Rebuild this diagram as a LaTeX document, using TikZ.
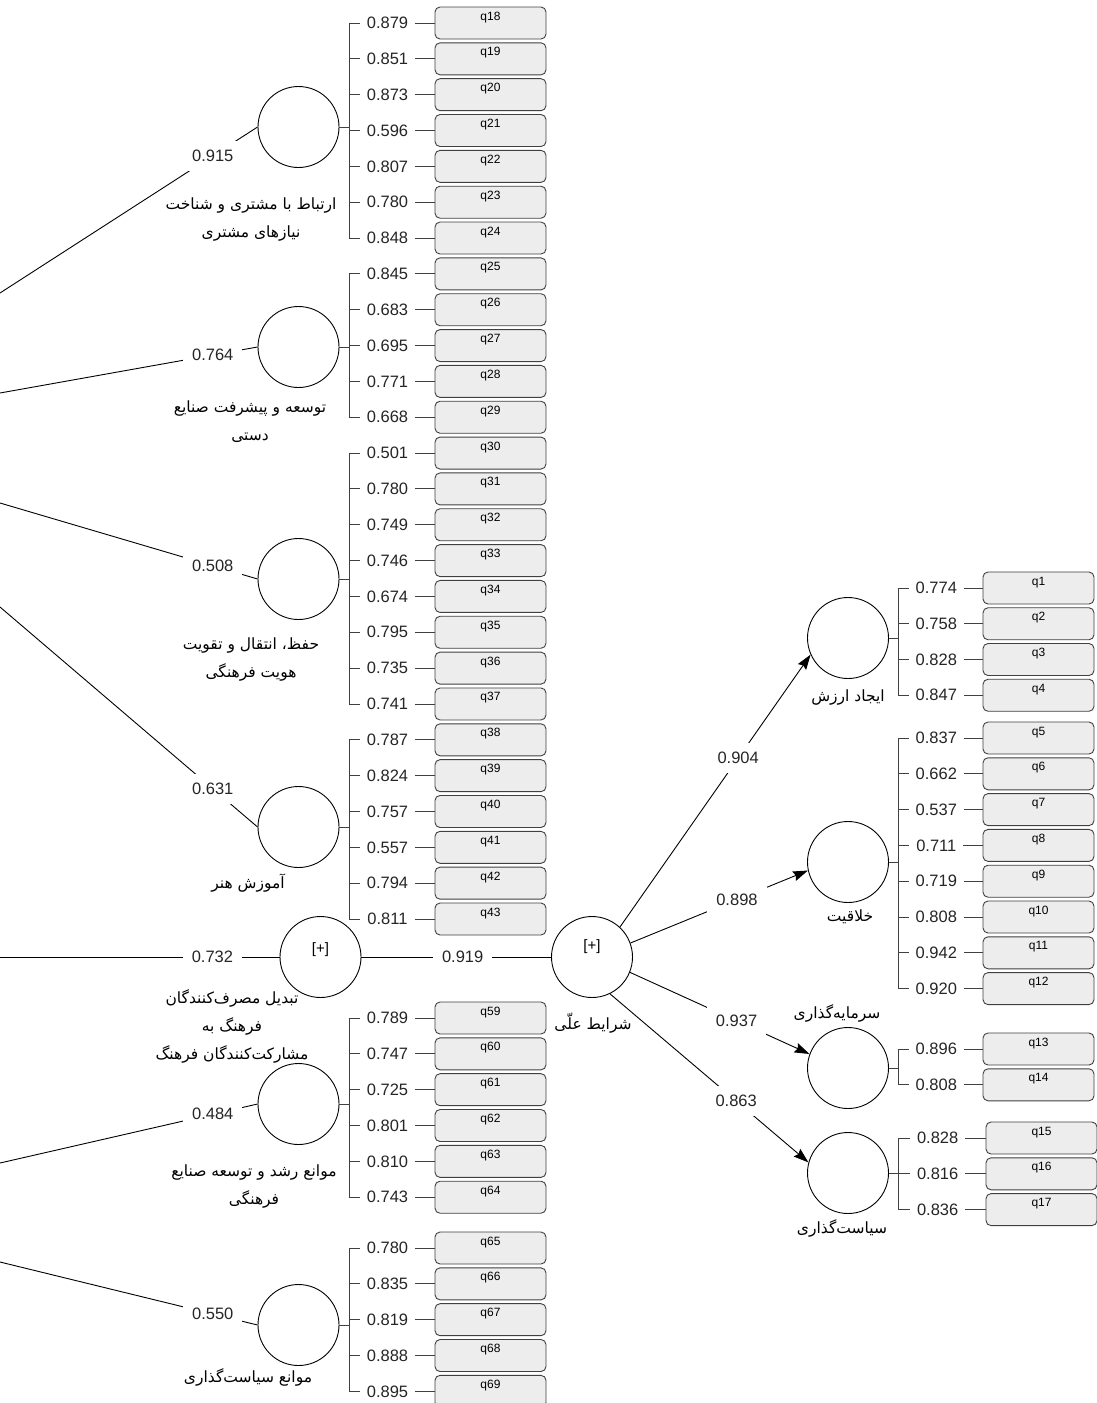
\documentclass[tikz,border=0pt]{standalone}
\usepackage{fontspec}
\setmainfont{Liberation Sans}
\newfontfamily\farsi[Script=Arabic]{DejaVu Sans}
\TeXXeTstate=1
\usetikzlibrary{shapes.geometric,arrows.meta,positioning,calc}

\tikzset{
  latent/.style={circle, draw, minimum size=81pt, inner sep=0pt},
  ind/.style={draw=black!75, fill=black!7, rounded corners=5pt, minimum width=111pt,
    minimum height=32pt, inner ysep=5pt, text height=8pt, text depth=14pt,
    font=\fontsize{12}{12}\selectfont},
  brk/.style={draw=black!75},
  load/.style={fill=white, pos=0.45, inner xsep=7pt, inner ysep=1pt, text=black!85,
    font=\fontsize{16.5}{18}\selectfont},
  coef/.style={fill=white, inner sep=9pt, text=black!85, font=\fontsize{16.5}{18}\selectfont},
  fa/.style={font=\farsi\fontsize{15.5}{28}\selectfont, align=center},
  arr/.style={-{Stealth[length=15pt, width=10pt, inset=2pt]}},
}

\begin{document}
\begin{tikzpicture}[x=1pt, y=-1pt, line width=0.9pt]
  \clip (0,0) rectangle (1097,1403);

  % left column: first order constructs
  \node[latent] (c1) at (298.5,127) {};
  \coordinate[right=9.5pt of c1.east] (b1);
  \foreach \q/\v in {18/0.879,19/0.851,20/0.873,21/0.596,22/0.807,23/0.780,24/0.848}{
    \node[ind] (q\q) at (490.5,{23+35.84*(\q-18)}) {q\q};
    \draw[brk] (b1 |- q\q) -- node[load] (v\q) {\v} (q\q.west);
  }
  \draw[brk] (c1.east) -- (b1) (b1 |- q18) -- (b1 |- q24);
  \node[fa] (t1) at (251,219) {\beginR ارتباط با مشتری و شناخت\endR\\\beginR نیازهای مشتری\endR};

  \node[latent] (c2) at (298.5,347) {};
  \coordinate[right=9.5pt of c2.east] (b2);
  \foreach \q/\v in {25/0.845,26/0.683,27/0.695,28/0.771,29/0.668}{
    \node[ind] (q\q) at (490.5,{23+35.84*(\q-18)}) {q\q};
    \draw[brk] (b2 |- q\q) -- node[load] (v\q) {\v} (q\q.west);
  }
  \draw[brk] (c2.east) -- (b2) (b2 |- q25) -- (b2 |- q29);
  \node[fa] (t2) at (250,422) {\beginR توسعه و پیشرفت صنایع\endR\\\beginR دستی\endR};

  \node[latent] (c3) at (298.5,579) {};
  \coordinate[right=9.5pt of c3.east] (b3);
  \foreach \q/\v in {30/0.501,31/0.780,32/0.749,33/0.746,34/0.674,35/0.795,36/0.735,37/0.741}{
    \node[ind] (q\q) at (490.5,{23+35.84*(\q-18)}) {q\q};
    \draw[brk] (b3 |- q\q) -- node[load] (v\q) {\v} (q\q.west);
  }
  \draw[brk] (c3.east) -- (b3) (b3 |- q30) -- (b3 |- q37);
  \node[fa] (t3) at (251,659) {\beginR حفظ، انتقال و تقویت\endR\\\beginR هویت فرهنگی\endR};

  \node[latent] (c4) at (298.5,827) {};
  \coordinate[right=9.5pt of c4.east] (b4);
  \foreach \q/\v in {38/0.787,39/0.824,40/0.757,41/0.557,42/0.794,43/0.811}{
    \node[ind] (q\q) at (490.5,{23+35.84*(\q-18)}) {q\q};
    \draw[brk] (b4 |- q\q) -- node[load] (v\q) {\v} (q\q.west);
  }
  \draw[brk] (c4.east) -- (b4) (b4 |- q38) -- (b4 |- q43);
  \node[fa] (t4) at (248,883) {\beginR آموزش هنر\endR};

  % second order construct
  \node[latent] (c5) at (320.5,957) {};
  \node[font=\fontsize{15}{16}\selectfont] (plus5) at (320.5,950) {[+]};
  \node[fa] (t5) at (232,1026) {\beginR تبدیل مصرف^^^^200cکنندگان\endR\\\beginR فرهنگ به\endR\\\beginR مشارکت^^^^200cکنندگان فرهنگ\endR};

  \node[latent] (c6) at (298.5,1104) {};
  \coordinate[right=9.5pt of c6.east] (b6);
  \foreach \q/\v in {59/0.789,60/0.747,61/0.725,62/0.801,63/0.810,64/0.743}{
    \node[ind] (q\q) at (490.5,{1018+35.84*(\q-59)}) {q\q};
    \draw[brk] (b6 |- q\q) -- node[load] (v\q) {\v} (q\q.west);
  }
  \draw[brk] (c6.east) -- (b6) (b6 |- q59) -- (b6 |- q64);
  \node[fa] (t6) at (254,1186) {\beginR موانع رشد و توسعه صنایع\endR\\\beginR فرهنگی\endR};

  \node[latent] (c7) at (298.5,1325) {};
  \coordinate[right=9.5pt of c7.east] (b7);
  \foreach \q/\v in {65/0.780,66/0.835,67/0.819,68/0.888,69/0.895}{
    \node[ind] (q\q) at (490.5,{1248+35.84*(\q-65)}) {q\q};
    \draw[brk] (b7 |- q\q) -- node[load] (v\q) {\v} (q\q.west);
  }
  \draw[brk] (c7.east) -- (b7) (b7 |- q65) -- (b7 |- q69);
  \node[fa] (t7) at (248,1377) {\beginR موانع سیاست^^^^200cگذاری\endR};

  % paths coming in from the left edge
  \coordinate (h1) at (0,293);
  \coordinate (h2) at (0,393);
  \coordinate (h3) at (0,503);
  \coordinate (h4) at (0,607);
  \coordinate (h5) at (0,957);
  \coordinate (h6) at (0,1163);
  \coordinate (h7) at (0,1262);
  \draw (h1) -- node[coef, pos=0.826] (p1) {0.915} (c1.west);
  \draw (h2) -- node[coef, pos=0.826] (p2) {0.764} (c2.west);
  \draw (h3) -- node[coef, pos=0.826] (p3) {0.508} (c3.west);
  \draw (h4) -- node[coef, pos=0.826] (p4) {0.631} (c4.west);
  \draw (h5) -- node[coef, pos=0.76] (p5) {0.732} (c5.west);
  \draw (h6) -- node[coef, pos=0.826] (p6) {0.484} (c6.west);
  \draw (h7) -- node[coef, pos=0.826] (p7) {0.550} (c7.west);

  % causal conditions
  \node[latent] (cause) at (592,957) {};
  \node[font=\fontsize{15}{16}\selectfont] (plus) at (592,947) {[+]};
  \node[fa] (t-cause) at (593,1023) {\beginR شرایط علّی\endR};
  \draw (c5.east) -- node[coef, pos=0.534] (p8) {0.919} (cause.west);

  % right column
  \node[latent] (r1) at (848,638) {};
  \coordinate[right=9.5pt of r1.east] (br1);
  \foreach \q/\v in {1/0.774,2/0.758,3/0.828,4/0.847}{
    \node[ind] (q\q) at (1038.5,{588+35.75*(\q-1)}) {q\q};
    \draw[brk] (br1 |- q\q) -- node[load] (v\q) {\v} (q\q.west);
  }
  \draw[brk] (r1.east) -- (br1) (br1 |- q1) -- (br1 |- q4);
  \node[fa] (t-r1) at (848,697) {\beginR ایجاد ارزش\endR};

  \node[latent] (r2) at (848,862) {};
  \coordinate[right=9.5pt of r2.east] (br2);
  \foreach \q/\v in {5/0.837,6/0.662,7/0.537,8/0.711,9/0.719,10/0.808,11/0.942,12/0.920}{
    \node[ind] (q\q) at (1038.5,{738+35.8*(\q-5)}) {q\q};
    \draw[brk] (br2 |- q\q) -- node[load] (v\q) {\v} (q\q.west);
  }
  \draw[brk] (r2.east) -- (br2) (br2 |- q5) -- (br2 |- q12);
  \node[fa] (t-r2) at (850,917) {\beginR خلاقیت\endR};

  \node[latent] (r3) at (848,1068) {};
  \coordinate[right=9.5pt of r3.east] (br3);
  \foreach \q/\v in {13/0.896,14/0.808}{
    \node[ind] (q\q) at (1038.5,{1049+35.8*(\q-13)}) {q\q};
    \draw[brk] (br3 |- q\q) -- node[load] (v\q) {\v} (q\q.west);
  }
  \draw[brk] (r3.east) -- (br3) (br3 |- q13) -- (br3 |- q14);
  \node[fa] (t-r3) at (837,1013) {\beginR سرمایه^^^^200cگذاری\endR};

  \node[latent] (r4) at (848,1173) {};
  \coordinate[right=9.5pt of r4.east] (br4);
  \foreach \q/\v in {15/0.828,16/0.816,17/0.836}{
    \node[ind] (q\q) at (1041.5,{1138+35.8*(\q-15)}) {q\q};
    \draw[brk] (br4 |- q\q) -- node[load] (v\q) {\v} (q\q.west);
  }
  \draw[brk] (r4.east) -- (br4) (br4 |- q15) -- (br4 |- q17);
  \node[fa] (t-r4) at (842,1228) {\beginR سیاست^^^^200cگذاری\endR};

  % arrows from causal conditions
  \draw[arr] (cause.47) -- node[coef, pos=0.62] (a1) {0.904} (r1.204);
  \draw[arr] (cause.20) -- node[coef, pos=0.6] (a2) {0.898} (r2.192);
  \draw[arr] (cause.-22) -- node[coef, pos=0.594] (a3) {0.937} (r3.160);
  \draw[arr] (cause.-64) -- node[coef, pos=0.636] (a4) {0.863} (r4.165);
\end{tikzpicture}
\end{document}
